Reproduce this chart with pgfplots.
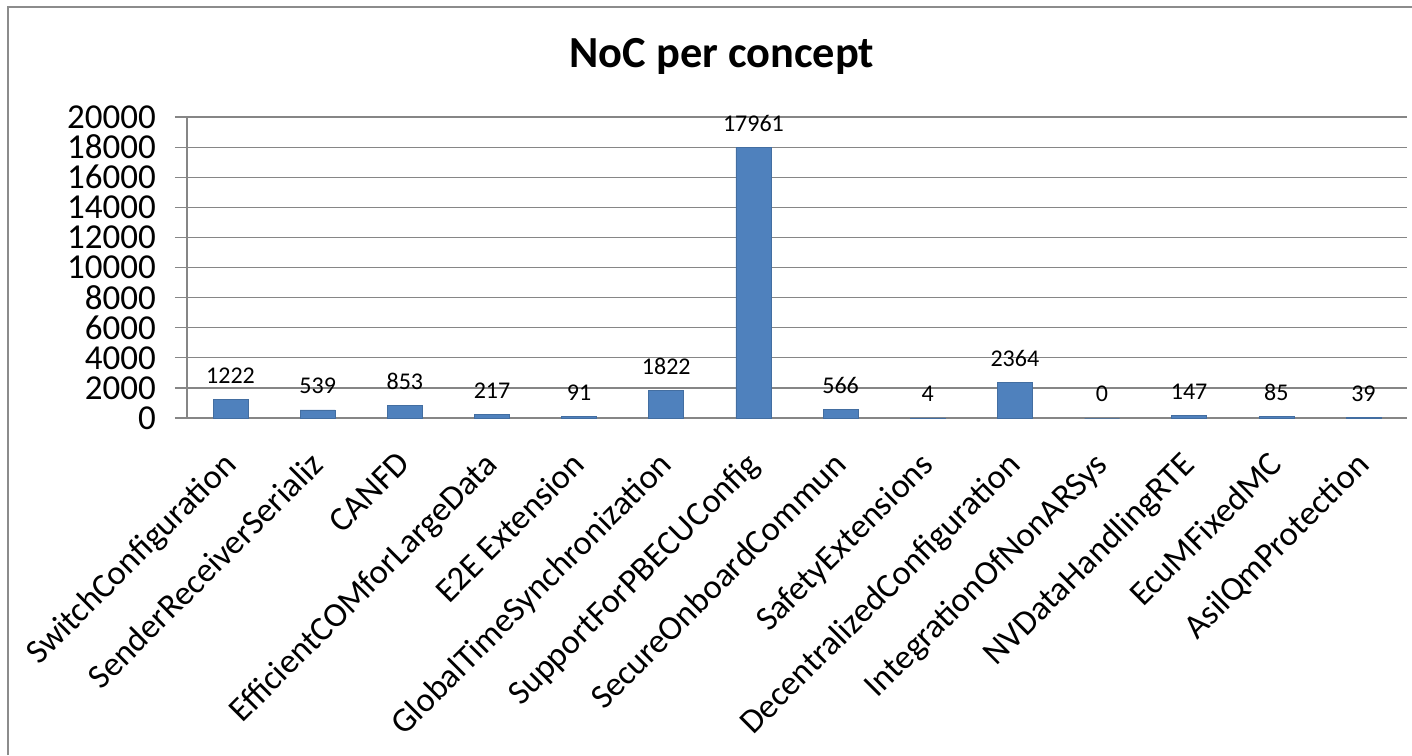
\documentclass[border=0pt]{standalone}
\usepackage{fontspec}
\setmainfont{Carlito}
\usepackage{pgfplots}
\pgfplotsset{compat=1.18}

\definecolor{barblue}{HTML}{4F81BD}
\definecolor{gridgray}{HTML}{868686}
\definecolor{framegray}{HTML}{8C8C8C}

\begin{document}
\begin{tikzpicture}
\useasboundingbox (0,0) rectangle (706pt,377.5pt);
% chart frame
\draw[framegray, line width=0.6pt] (4pt,0) -- (4pt,374pt) -- (706pt,374pt);
% title
\node[font=\fontsize{22.2}{25}\selectfont\bfseries, anchor=base] at (361pt,343.5pt) {NoC per concept};
\begin{axis}[
  scale only axis,
  width=610pt, height=150.5pt,
  at={(93.5pt,168.5pt)}, anchor=south west,
  xmin=-0.5, xmax=13.5,
  ymin=0, ymax=20000,
  ytick={0,2000,...,20000},
  axis x line*=bottom, axis y line*=left,
  axis line style={gridgray, line width=0.6pt, -},
  ymajorgrids,
  grid style={gridgray, line width=0.6pt},
  tick align=outside,
  major tick length=6pt, minor tick length=6pt,
  tick style={gridgray, line width=0.6pt},
  xtick={0,...,13},
  xtick style={draw=none},
  minor xtick={-0.5,0.5,...,13.5},
  xticklabels={SwitchConfiguration,SenderReceiverSerializ,CANFD,EfficientCOMforLargeData,E2E Extension,GlobalTimeSynchronization,SupportForPBECUConfig,SecureOnboardCommun,SafetyExtensions,DecentralizedConfiguration,IntegrationOfNonARSys,NVDataHandlingRTE,EcuMFixedMC,AsilQmProtection},
  xticklabel style={rotate=45, anchor=north east, font=\fontsize{17.2}{20}\selectfont, inner sep=1pt, yshift=-2.6pt, xshift=-9.2pt},
  yticklabel style={font=\fontsize{17.5}{21}\selectfont, xshift=-6pt},
  /pgf/number format/assume math mode=true,
  scaled y ticks=false,
  y tick label style={/pgf/number format/.cd, fixed, 1000 sep={}},
  nodes near coords,
  every node near coord/.append style={font=\fontsize{12}{14}\selectfont, anchor=center, yshift=12pt, black},
  point meta=explicit symbolic,
  clip=false,
]
\addplot[ybar, bar width=17.5pt, fill=barblue, draw=barblue!85!black, line width=0.3pt] coordinates {
  (0,1222) [1222]
  (1,539) [539]
  (2,853) [853]
  (3,217) [217]
  (4,91) [91]
  (5,1822) [1822]
  (6,17961) [17961]
  (7,566) [566]
  (8,4) [4]
  (9,2364) [2364]
  (10,0) [0]
  (11,147) [147]
  (12,85) [85]
  (13,39) [39]
};
\end{axis}
\end{tikzpicture}
\end{document}
